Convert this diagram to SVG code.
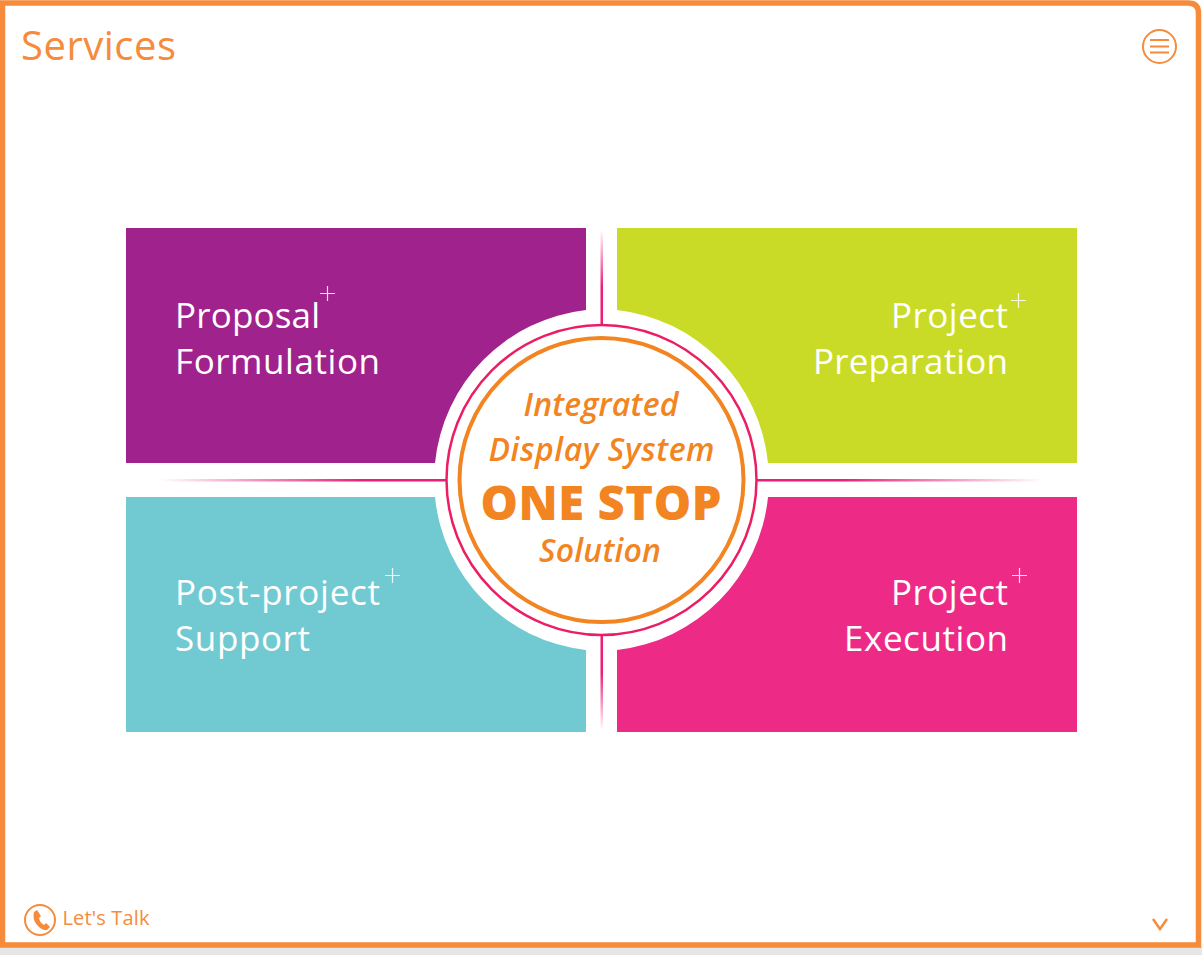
<svg xmlns="http://www.w3.org/2000/svg" width="1202" height="955" viewBox="0 0 1202 955">
<style>
.lbl{font-family:"Open Sans","Noto Sans",sans-serif;font-size:35px;fill:#fff}
.plus{stroke:#fff;stroke-width:1.200;fill:none;opacity:.85}
.hub{font-family:"Open Sans","Noto Sans",sans-serif;fill:#f28521;text-anchor:middle;font-style:italic;font-weight:600;font-size:32px}
.ui{font-family:"Open Sans","Noto Sans",sans-serif;fill:#f68b3c}
</style>
<defs>
<linearGradient id="gv" x1="0" y1="0" x2="0" y2="1"><stop offset="0" stop-color="#ec1e79" stop-opacity="0"/><stop offset=".6" stop-color="#ec1e79"/><stop offset="1" stop-color="#ec1e79"/></linearGradient>
<linearGradient id="gv2" x1="0" y1="1" x2="0" y2="0"><stop offset="0" stop-color="#ec1e79" stop-opacity="0"/><stop offset=".6" stop-color="#ec1e79"/><stop offset="1" stop-color="#ec1e79"/></linearGradient>
<linearGradient id="gh" x1="0" y1="0" x2="1" y2="0"><stop offset="0" stop-color="#ec1e79" stop-opacity="0"/><stop offset=".7" stop-color="#ec1e79"/><stop offset="1" stop-color="#ec1e79"/></linearGradient>
<linearGradient id="gh2" x1="1" y1="0" x2="0" y2="0"><stop offset="0" stop-color="#ec1e79" stop-opacity="0"/><stop offset=".7" stop-color="#ec1e79"/><stop offset="1" stop-color="#ec1e79"/></linearGradient>
</defs>
<rect width="1202" height="955" fill="#fff"/>
<rect x="0" y="946" width="1202" height="9" fill="#e6e6e6"/>
<path d="M2.500 3H1188Q1198.500 3 1198.500 13V945H2.500Z" fill="#fff" stroke="#f68b3c" stroke-width="5.500"/>
<g id="title"><text class="ui" x="21" y="60" font-size="40" textLength="155">Services</text></g>
<g id="menu" fill="none" stroke="#f68b3c">
<circle cx="1159.500" cy="46.500" r="16.500" stroke-width="2"/>
<path d="M1150 40H1169M1150 46.500H1169M1150 52.500H1169" stroke-width="2"/>
</g>
<g id="node-proposal">
<path d="M126 228H586V310A171 171 0 0 0 435 463H126Z" fill="#a0228c"/>
<text class="lbl" x="175" y="328" textLength="145">Proposal</text>
<text class="lbl" x="175" y="374" textLength="205">Formulation</text>
<path class="plus" d="M320 293.500H335M327.500 286V301"/>
</g>
<g id="node-preparation">
<path d="M1077 228H617V310A171 171 0 0 1 768 463H1077Z" fill="#c9db27"/>
<text class="lbl" x="891" y="328" textLength="117">Project</text>
<text class="lbl" x="813" y="374" textLength="195">Preparation</text>
<path class="plus" d="M1011 300.500H1026M1018.500 293V308"/>
</g>
<g id="node-support">
<path d="M126 732H586V650A171 171 0 0 1 435 497H126Z" fill="#71cad2"/>
<text class="lbl" x="175" y="605" textLength="205">Post-project</text>
<text class="lbl" x="175" y="651" textLength="135">Support</text>
<path class="plus" d="M385 575.500H400M392.500 568V583"/>
</g>
<g id="node-execution">
<path d="M1077 732H617V650A171 171 0 0 0 768 497H1077Z" fill="#ee2a87"/>
<text class="lbl" x="891" y="605" textLength="117">Project</text>
<text class="lbl" x="844" y="651" textLength="164">Execution</text>
<path class="plus" d="M1012 575.500H1027M1019.500 568V583"/>
</g>
<g id="connectors">
<rect x="600.500" y="230" width="2.500" height="95" fill="url(#gv)"/>
<rect x="600.500" y="635" width="2.500" height="95" fill="url(#gv2)"/>
<rect x="160" y="479" width="287" height="2.500" fill="url(#gh)"/>
<rect x="756" y="479" width="287" height="2.500" fill="url(#gh2)"/>
</g>
<g id="hub">
<circle cx="601.500" cy="480" r="155" fill="#fff" stroke="#ec1e63" stroke-width="2.500"/>
<circle cx="601.500" cy="480" r="142" fill="#fff" stroke="#f28521" stroke-width="4"/>
<text class="hub" x="601" y="416" textLength="155">Integrated</text>
<text class="hub" x="601.500" y="461" textLength="226">Display System</text>
<text class="hub" x="601" y="520" textLength="241" style="font-style:normal;font-weight:800;font-size:47px">ONE STOP</text>
<text class="hub" x="600" y="562" textLength="122">Solution</text>
</g>
<g id="talk">
<circle cx="40" cy="920" r="15" fill="none" stroke="#f68b3c" stroke-width="2"/>
<path d="M34 912L37 910L41 916L39 918Q40 923 44 925L46 923L50 927L47 930Q42 931 37 925Q32 919 34 912Z" fill="#f68b3c"/>
<text class="ui" x="62.500" y="925" font-size="20" textLength="87">Let's Talk</text>
</g>
<g id="down"><path d="M1153 919L1160 929L1167 919" fill="none" stroke="#f68b3c" stroke-width="2.500"/></g>
</svg>
